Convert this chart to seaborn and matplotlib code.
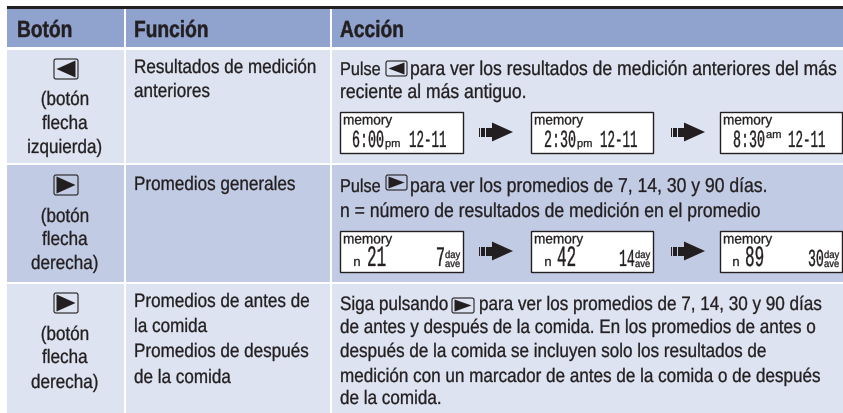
import matplotlib
matplotlib.use("Agg")
import matplotlib.pyplot as plt
from matplotlib.patches import Rectangle, FancyBboxPatch, Polygon
from matplotlib.patheffects import AbstractPathEffect
from matplotlib.transforms import Affine2D
import seaborn as sns

sns.set_theme(style="white")
plt.rcParams["font.family"] = ["Liberation Sans", "DejaVu Sans"]

# ---- content ----
headers = ["Botón", "Función", "Acción"]
button_left = ["(botón", "flecha", "izquierda)"]
button_right = ["(botón", "flecha", "derecha)"]
func_row1 = ["Resultados de medición", "anteriores"]
func_row2 = ["Promedios generales"]
func_row3 = ["Promedios de antes de", "la comida", "Promedios de después", "de la comida"]
act_row1 = ["para ver los resultados de medición anteriores del más", "reciente al más antiguo."]
act_row2 = ["para ver los promedios de 7, 14, 30 y 90 días.", "n = número de resultados de medición en el promedio"]
act_row3 = ["para ver los promedios de 7, 14, 30 y 90 días",
            "de antes y después de la comida. En los promedios de antes o",
            "después de la comida se incluyen solo los resultados de",
            "medición con un marcador de antes de la comida o de después",
            "de la comida."]
lcd_times = ["6:00", "2:30", "8:30"]
lcd_ampm = ["pm", "pm", "am"]
lcd_date = "12-11"
lcd_counts = ["21", "42", "89"]
lcd_days = ["7", "14", "30"]

# ---- style ----
INK = "#231f20"
HEAD = "#8fa3ce"
LIGHT = "#dde3f1"
MID = "#c2cbe4"
BODY = 12.3
ACT = 12.65
MONO = ["Liberation Mono", "DejaVu Sans Mono"]


class TallText(AbstractPathEffect):
    """Stretch glyphs vertically about the baseline (narrow-type look)."""
    def __init__(self, ys, weight=0.0):
        super().__init__()
        self.ys = ys
        self.weight = weight

    def draw_path(self, renderer, gc, tpath, affine, rgbFace=None):
        gc0 = renderer.new_gc()
        gc0.copy_properties(gc)
        gc0.set_linewidth(self.weight)
        gc0.set_foreground(INK)
        renderer.draw_path(gc0, tpath, Affine2D().scale(1, self.ys) + affine, rgbFace)
        gc0.restore()


fig = plt.figure(figsize=(8.43, 4.13), dpi=100, facecolor="white")
ax = fig.add_axes([0, 0, 1, 1])
ax.set_xlim(0, 843)
ax.set_ylim(413, 0)
ax.axis("off")


def cell(x0, x1, y0, y1, c):
    ax.add_patch(Rectangle((x0, y0), x1 - x0, y1 - y0, fc=c, ec="none"))


cols = [(7, 123.5), (125.5, 329.5), (331.5, 843)]
rows = [(9, 47, HEAD), (50, 162.5, LIGHT), (165, 281.5, MID), (284, 413, LIGHT)]
for y0, y1, c in rows:
    for x0, x1 in cols:
        cell(x0, x1, y0, y1, c)
cell(7, 843, 6, 8.7, INK)


def put(x, y, s, size=BODY, ha="left", ys=1.14, weight=0.2, **kw):
    t = ax.text(x, y, s, fontsize=size, ha=ha, va="baseline", color=INK, **kw)
    t.set_path_effects([TallText(ys, weight)])
    return t


for x, h in zip([17, 134, 340], headers):
    put(x, 37, h, size=13.8, ys=1.22, weight=0.3, fontweight="bold")


def button(x0, y0, x1, y1, direction):
    ax.add_patch(FancyBboxPatch((x0 + 1, y0 + 1), x1 - x0 - 2, y1 - y0 - 2,
                                boxstyle="round,pad=1,rounding_size=2", fc="none", ec=INK, lw=0.8))
    ym = (y0 + y1) / 2
    h = (y1 - y0) / 2 - 1.5
    if direction == "left":
        pts = [(x0 + 2.5, ym), (x1 - 2.5, ym - h), (x1 - 2.5, ym + h)]
    else:
        pts = [(x0 + 2.5, ym - h), (x0 + 2.5, ym + h), (x1 - 2.5, ym)]
    ax.add_patch(Polygon(pts, closed=True, fc=INK, ec="none"))


# column 1
cx = 65
button(54, 59, 78, 79, "left")
for y, s in zip([105, 129, 153], button_left):
    put(cx, y, s, ha="center")
button(54, 175, 78, 195, "right")
for y, s in zip([222, 245, 269], button_right):
    put(cx, y, s, ha="center")
button(54, 293, 78, 313, "right")
for y, s in zip([340, 363, 388], button_right):
    put(cx, y, s, ha="center")

# column 2
for y, s in zip([73, 97], func_row1):
    put(134, y, s)
for y, s in zip([190], func_row2):
    put(134, y, s)
for y, s in zip([307, 332, 357, 383], func_row3):
    put(134, y, s)

# column 3
put(340, 75, "Pulse", size=11.7)
button(386, 61, 407, 76, "left")
put(410, 75, act_row1[0], size=ACT)
put(340, 98, act_row1[1], size=ACT)

put(340, 192, "Pulse", size=11.7)
button(386, 175, 407, 190, "right")
put(410, 192, act_row2[0], size=ACT)
put(340, 217, act_row2[1], size=ACT)

put(340, 310, "Siga pulsando")
button(452, 298, 474, 313, "right")
put(479, 310, act_row3[0])
for y, s in zip([333, 357, 382, 404], act_row3[1:]):
    put(340, y, s)

# LCD panels
lcd_x = [(340, 463), (531, 653), (720, 842)]


def panel(x0, x1, y0, y1):
    ax.add_patch(Rectangle((x0, y0), x1 - x0, y1 - y0, fc="white", ec=INK, lw=1.0))
    put(x0 + 3, y0 + 12.5, "memory", size=9.8, ys=1.05)


time_x = [12, 13, 13]
date_x = [69, 69, 68]
for (x0, x1), t, ap, tx, dx in zip(lcd_x, lcd_times, lcd_ampm, time_x, date_x):
    panel(x0, x1, 112, 153)
    put(x0 + tx, 147, t, size=9.6, ys=1.85, family=MONO)
    put(x0 + tx + 33, 147 if ap == "pm" else 138, ap, size=8.0, ys=1.0)
    put(x0 + dx, 147, lcd_date, size=9.0, ys=1.95, family=MONO)

count_x = [27, 26, 25]
n_x = [13, 13, 12]
for (x0, x1), n, d, cxo, nxo in zip(lcd_x, lcd_counts, lcd_days, count_x, n_x):
    panel(x0, x1, 231, 272)
    put(x0 + nxo, 266, "n", size=9.5, ys=1.0, family=MONO)
    put(x0 + cxo, 266, n, size=11.5, ys=1.85, family=MONO)
    put(x1 - 18, 266, d, size=9.5 if len(d) > 1 else 11, ys=1.85, ha="right", family=MONO)
    put(x1 - 18, 258, "day", size=6.8, ys=1.1)
    put(x1 - 18, 267, "ave", size=6.8, ys=1.1)


def flow_arrow(x0, y):
    for dx in (0, 2.2, 4.4):
        ax.add_patch(Rectangle((x0 + dx, y - 4.5), 1.3, 9, fc=INK, ec="none"))
    ax.add_patch(Rectangle((x0 + 6.7, y - 4.5), 7, 9, fc=INK, ec="none"))
    ax.add_patch(Polygon([(x0 + 13, y - 9.5), (x0 + 13, y + 9.5), (x0 + 34, y)], closed=True, fc=INK, ec="none"))


for x in (479, 671):
    flow_arrow(x, 132)
    flow_arrow(x, 251)

fig.savefig("out.png", dpi=100, facecolor="white")
